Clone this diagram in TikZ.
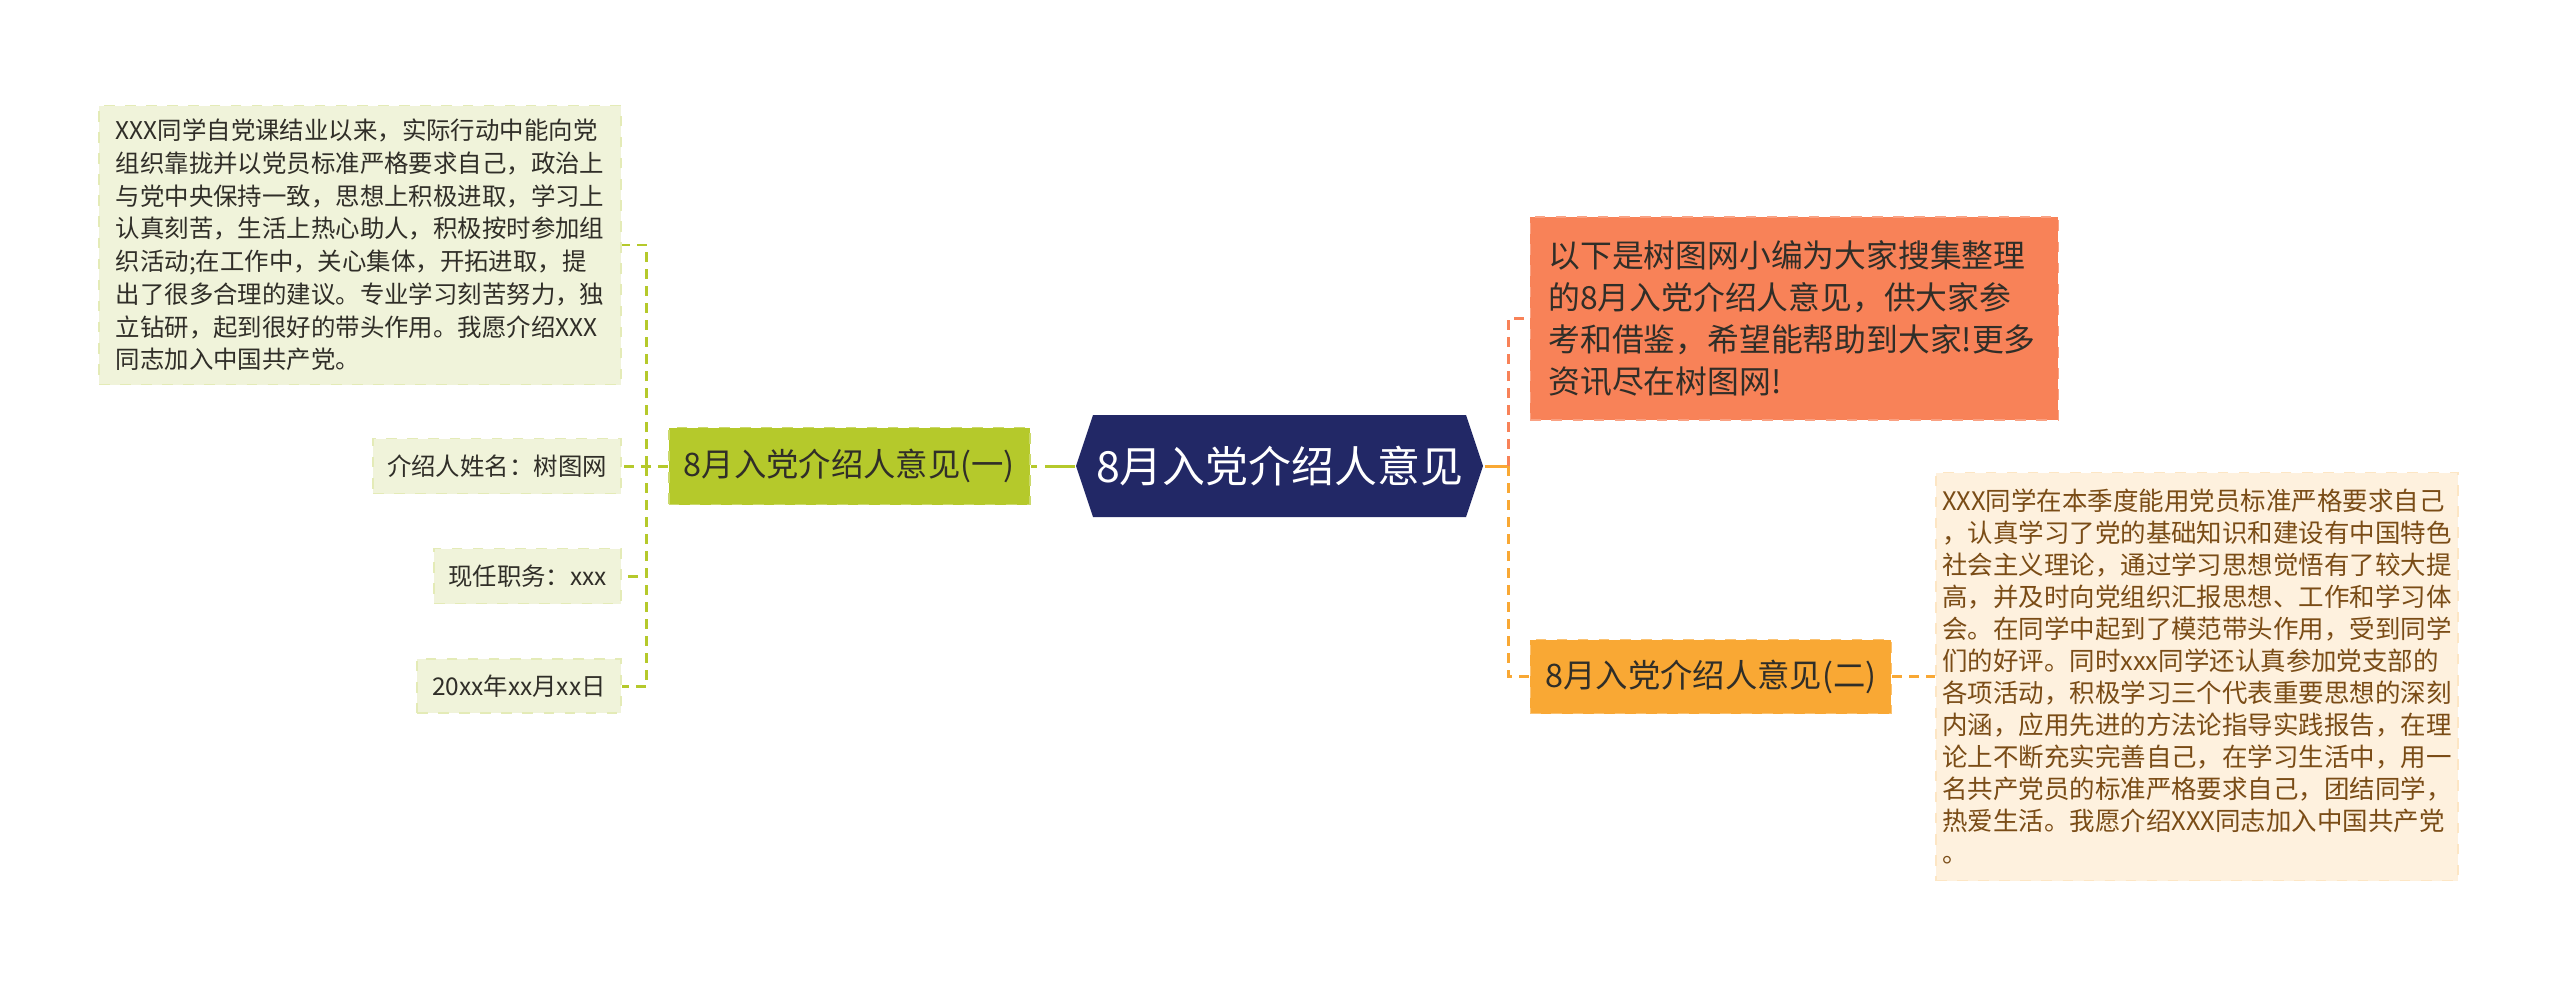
\documentclass[tikz,border=0pt]{standalone}
\usepackage{fontspec}
\usepackage{tikz}
\usetikzlibrary{positioning,calc}
\newfontfamily\cjk{Noto Sans CJK SC}
\definecolor{NavyColor}{RGB}{34,40,102}
\definecolor{LimeColor}{RGB}{181,201,43}
\definecolor{LimeLight}{RGB}{240,243,218}
\definecolor{CoralColor}{RGB}{248,130,88}
\definecolor{AmberColor}{RGB}{249,168,52}
\definecolor{CreamColor}{RGB}{254,241,222}
\definecolor{BrownText}{RGB}{122,76,22}
\definecolor{InkColor}{RGB}{48,46,40}

\begin{document}
\begin{tikzpicture}[font=\cjk, line width=0.85pt,
    hexbox/.style={minimum width=4.07cm, minimum height=1.02cm, inner sep=0pt, fill=white, text=white,
      font=\cjk\fontsize{12.2}{14}\selectfont,
      path picture={\fill[NavyColor] (path picture bounding box.west)
        -- ([xshift=0.17cm]path picture bounding box.north west) -- ([xshift=-0.17cm]path picture bounding box.north east)
        -- (path picture bounding box.east)
        -- ([xshift=-0.17cm]path picture bounding box.south east) -- ([xshift=0.17cm]path picture bounding box.south west) -- cycle;}},
    branchbox/.style={dashed, line width=0.5pt, inner sep=0pt, minimum width=3.61cm, text=InkColor,
      font=\cjk\fontsize{9.2}{11}\selectfont},
    leaf/.style={draw=LimeLight!80!LimeColor, dashed, line width=0.4pt, fill=LimeLight, text=InkColor,
      inner sep=0pt, align=left, font=\cjk\fontsize{6.95}{9}\selectfont},
    limeline/.style={LimeColor, dash pattern=on 0.1cm off 0.07cm},
    coralline/.style={CoralColor, dash pattern=on 0.1cm off 0.07cm},
    amberline/.style={AmberColor, dash pattern=on 0.1cm off 0.07cm}]
  \fill[white] (0,0) rectangle (25.6,9.86);
  \useasboundingbox (0,0) rectangle (25.6,9.86);

  \node[hexbox] (a) at (12.795,5.20) {8月入党介绍人意见};

  % left branch
  \node[branchbox, fill=LimeColor, draw=LimeColor!70!white, minimum height=0.77cm, left=0.44cm of a] (b) {8月入党介绍人意见(一)};
  \node[leaf, minimum width=5.22cm, minimum height=2.79cm, font=\cjk\fontsize{6.95}{9.3}\selectfont,
    left=0.46cm of b, yshift=2.21cm] (b1) {XXX同学自党课结业以来，实际行动中能向党\\组织靠拢并以党员标准严格要求自己，政治上\\与党中央保持一致，思想上积极进取，学习上\\认真刻苦，生活上热心助人，积极按时参加组\\织活动;在工作中，关心集体，开拓进取，提\\出了很多合理的建议。专业学习刻苦努力，独\\立钻研，起到很好的带头作用。我愿介绍XXX\\同志加入中国共产党。};
  \node[leaf, minimum width=2.48cm, minimum height=0.55cm, left=0.46cm of b] (b2) {介绍人姓名：树图网};
  \node[leaf, minimum width=1.87cm, minimum height=0.55cm, left=0.46cm of b, yshift=-1.10cm] (b3) {现任职务：xxx};
  \node[leaf, minimum width=2.04cm, minimum height=0.54cm, left=0.46cm of b, yshift=-2.20cm] (b4) {20xx年xx月xx日};

  % right branch
  \node[fill=CoralColor, draw=CoralColor!75!white, dashed, line width=0.5pt, text=InkColor, align=left,
    text width=4.92cm, inner xsep=0.18cm, inner ysep=0pt, minimum height=2.03cm,
    font=\cjk\fontsize{9.05}{11.9}\selectfont, right=0.45cm of a, yshift=1.475cm] (c) {以下是树图网小编为大家搜集整理\\的8月入党介绍人意见，供大家参\\考和借鉴，希望能帮助到大家!更多\\资讯尽在树图网!};
  \node[branchbox, fill=AmberColor, draw=AmberColor!70!white, minimum height=0.74cm, right=0.45cm of a, yshift=-2.105cm] (d) {8月入党介绍人意见(二)};
  \node[fill=CreamColor, draw=CreamColor!85!AmberColor, dashed, line width=0.4pt, text=BrownText, align=left,
    inner sep=0pt, minimum width=5.22cm, minimum height=4.08cm, font=\cjk\fontsize{7.25}{9.1}\selectfont,
    right=0.43cm of d] (d1) {XXX同学在本季度能用党员标准严格要求自己\\，认真学习了党的基础知识和建设有中国特色\\社会主义理论，通过学习思想觉悟有了较大提\\高，并及时向党组织汇报思想、工作和学习体\\会。在同学中起到了模范带头作用，受到同学\\们的好评。同时xxx同学还认真参加党支部的\\各项活动，积极学习三个代表重要思想的深刻\\内涵，应用先进的方法论指导实践报告，在理\\论上不断充实完善自己，在学习生活中，用一\\名共产党员的标准严格要求自己，团结同学，\\热爱生活。我愿介绍XXX同志加入中国共产党\\。};

  \coordinate (jl) at ($(b.west)+(-0.21,0)$);
  \coordinate (jr) at ($(a.east)+(0.24,0)$);

  \draw[LimeColor, dash pattern=on 0.3cm off 0.08cm] (a.west) -- (b.east);
  \draw[limeline] (b.west) -- (b2.east);
  \draw[limeline] (jl) |- (b1.east);
  \draw[limeline] (jl) |- (b3.east);
  \draw[limeline] (jl) |- (b4.east);

  \draw[AmberColor] (a.east) -- (jr);
  \draw[coralline] (jr) |- (c.west);
  \draw[amberline] (jr) |- (d.west);
  \draw[amberline] (d.east) -- (d1.west);
\end{tikzpicture}
\end{document}
